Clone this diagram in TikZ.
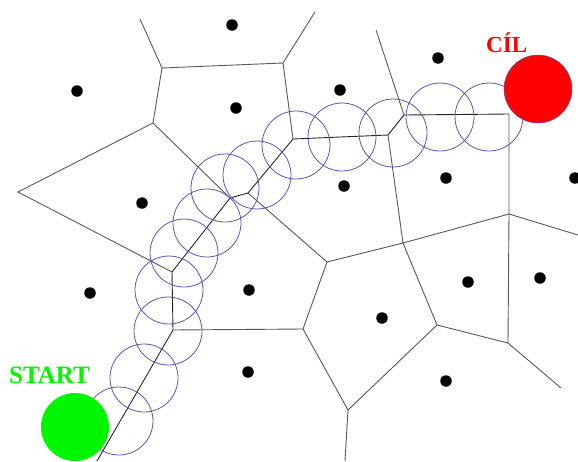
\documentclass[tikz,border=0pt]{standalone}
\usepackage{fontspec}
\setmainfont{Liberation Serif}
\definecolor{probeblue}{RGB}{88,88,178}
\definecolor{startgreen}{RGB}{0,245,0}
\definecolor{goalred}{RGB}{255,0,0}
\begin{document}
\begin{tikzpicture}[x=1pt,y=-1pt,
  site/.style={circle,fill=black,inner sep=0pt,minimum size=11.5pt},
  cell/.style={draw=black!65,line width=0.9pt},
  route/.style={draw=black!85,line width=0.9pt},
  probe/.style={circle,draw=probeblue,line width=0.8pt,inner sep=0pt,minimum size=68pt},
  terminal/.style={circle,inner sep=0pt,minimum size=68pt},
  caption/.style={inner sep=0pt,anchor=base west}]
\fill[white] (0,0) rectangle (578,461);
\useasboundingbox (0,0) rectangle (578,461);

% Voronoi vertices
\coordinate (v1) at (140,19);
\coordinate (v2) at (162,68);
\coordinate (v3) at (283,63);
\coordinate (v4) at (315,12);
\coordinate (v5) at (153,123);
\coordinate (v6) at (18,192);
\coordinate (v7) at (172,272);
\coordinate (v8) at (230,198);
\coordinate (v9) at (248,193);
\coordinate (v10) at (293,139);
\coordinate (v11) at (388,135);
\coordinate (v12) at (404,115);
\coordinate (v13) at (376,30);
\coordinate (v14) at (509,114);
\coordinate (v15) at (509,214);
\coordinate (v16) at (578,235);
\coordinate (v17) at (403,243);
\coordinate (v18) at (327,262);
\coordinate (v19) at (303,329);
\coordinate (v20) at (173,330);
\coordinate (v21) at (97,461);
\coordinate (v22) at (348,410);
\coordinate (v23) at (345,461);
\coordinate (v24) at (437,325);
\coordinate (v25) at (508,343);
\coordinate (v26) at (561,388);

% Voronoi edges
\draw[cell] (v1) -- (v2) -- (v3) -- (v4);
\draw[cell] (v2) -- (v5) -- (v6) -- (v7);
\draw[cell] (v5) -- (v8);
\draw[cell] (v3) -- (v10);
\draw[cell] (v9) -- (v18) -- (v17) -- (v11);
\draw[cell] (v12) -- (v13);
\draw[cell] (v17) -- (v15) -- (v16);
\draw[cell] (v14) -- (v15) -- (v25) -- (v26);
\draw[cell] (v18) -- (v19) -- (v22) -- (v23);
\draw[cell] (v19) -- (v20);
\draw[cell] (v22) -- (v24) -- (v25);
\draw[cell] (v24) -- (v17);

% route along the Voronoi edges
\draw[route] (v21) -- (v20) -- (v7) -- (v8) -- (v9) -- (v10) -- (v11) -- (v12) -- (v14);

% probe circles along the route
\foreach \px/\py [count=\i] in {119/421,144/378,168/331,169/290,184/253,207/223,225/188,
    257/175,296/145,342/137,393/133,440/117,489/117}
  \node[probe] (p\i) at (\px,\py) {};

% sites
\foreach \sx/\sy [count=\i] in {232/25,77/91,236/108,142/203,340/90,438/58,344/186,446/178,
    575/178,90/293,249/290,248/372,468/282,540/278,382/318,446/381}
  \node[site] (s\i) at (\sx,\sy) {};

% start and goal
\node[terminal,fill=startgreen] (start) at (75,427) {};
\node[terminal,fill=goalred,draw=probeblue,line width=0.5pt] (goal) at (538,89) {};
\node[caption,text=startgreen,font=\bfseries\fontsize{25}{25}\selectfont] (startlabel) at (9,383) {START};
\node[caption,text=goalred,font=\bfseries\fontsize{23}{23}\selectfont] (goallabel) at (486,52) {CÍL};
\end{tikzpicture}
\end{document}
